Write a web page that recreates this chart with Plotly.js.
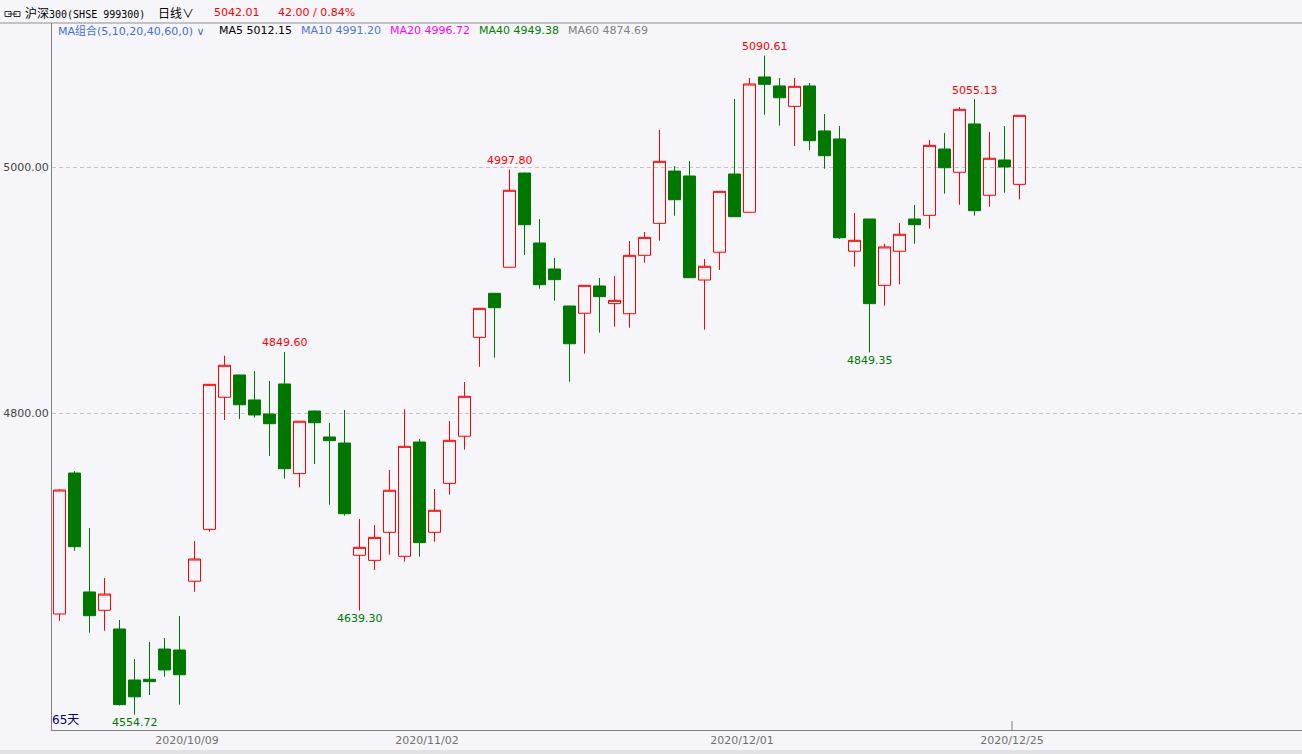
<!DOCTYPE html>
<html><head><meta charset="utf-8">
<script src="https://cdn.plot.ly/plotly-3.0.1.min.js"></script>
<style>html,body{margin:0;padding:0;background:#f6f6fa;overflow:hidden}#chart{width:1302px;height:754px}</style>
</head><body><div id="chart"></div>
<script>
// ---- data ----
const dates = [
 '2020/09/18','2020/09/21','2020/09/22','2020/09/23','2020/09/24','2020/09/25','2020/09/28','2020/09/29','2020/09/30',
 '2020/10/09','2020/10/12','2020/10/13','2020/10/14','2020/10/15','2020/10/16','2020/10/19','2020/10/20','2020/10/21','2020/10/22','2020/10/23',
 '2020/10/26','2020/10/27','2020/10/28','2020/10/29','2020/10/30',
 '2020/11/02','2020/11/03','2020/11/04','2020/11/05','2020/11/06','2020/11/09','2020/11/10','2020/11/11','2020/11/12','2020/11/13',
 '2020/11/16','2020/11/17','2020/11/18','2020/11/19','2020/11/20','2020/11/23','2020/11/24','2020/11/25','2020/11/26','2020/11/27','2020/11/30',
 '2020/12/01','2020/12/02','2020/12/03','2020/12/04','2020/12/07','2020/12/08','2020/12/09','2020/12/10','2020/12/11',
 '2020/12/14','2020/12/15','2020/12/16','2020/12/17','2020/12/18','2020/12/21','2020/12/22','2020/12/23','2020/12/24','2020/12/25'
];
const openP = [4636.6,4751.2,4654.5,4639.6,4624.4,4582.9,4583.5,4608.1,4607.3,4663.2,
 4705.4,4812.8,4830.9,4810.6,4799.2,4823.6,4750.7,4801.6,4780.5,4775.6,
 4684.3,4680.2,4703.0,4683.5,4776.4,4703.0,4742.8,4781.1,4861.5,4897.3,
 4918.5,4995.1,4938.2,4917.1,4887.0,4881.1,4903.3,4888.9,4880.7,4928.2,
 4954.2,4996.7,4992.7,4908.1,4930.7,4994.3,4963.2,5073.2,5065.9,5049.3,
 5065.9,5029.3,5022.8,4931.5,4957.7,4903.8,4931.5,4957.7,4960.7,5014.6,
 4995.7,5035.0,4977.0,5005.7,4985.9];
const highP = [4738.0,4752.8,4706.5,4665.9,4631.7,4600.0,4613.8,4617.1,4635.0,4695.9,
 4823.5,4846.6,4831.0,4834.1,4826.0,4849.60,4793.5,4802.0,4791.9,4802.4,
 4713.8,4708.9,4753.7,4803.0,4778.9,4738.2,4793.5,4825.2,4885.3,4897.5,
 4997.80,4995.5,4957.7,4926.0,4887.2,4904.0,4909.8,4911.4,4939.8,4947.2,
 5030.1,5000.8,5004.9,4925.2,4980.3,5055.3,5072.4,5090.61,5072.4,5072.4,
 5068.3,5043.1,5033.3,4962.6,4957.8,4937.6,4954.5,4969.1,5022.0,5027.6,
 5048.8,5055.13,5028.5,5033.3,5042.01];
const lowP = [4631.1,4688.0,4621.4,4623.0,4562.1,4554.72,4570.7,4585.6,4562.9,4654.7,
 4703.5,4794.3,4795.1,4796.2,4765.0,4746.6,4739.6,4758.5,4725.4,4716.5,
 4639.30,4672.4,4684.8,4679.1,4683.2,4695.4,4733.6,4770.2,4837.6,4845.0,
 4918.4,4928.5,4901.1,4891.3,4825.4,4848.2,4865.3,4870.2,4869.3,4922.2,
 4940.1,4960.4,4909.8,4867.7,4916.3,4959.5,4963.0,5042.5,5033.6,5017.1,
 5013.8,4998.6,4941.5,4918.9,4849.35,4887.2,4904.6,4937.6,4949.8,4978.3,
 4969.3,4960.4,4967.7,4979.1,4973.7];
const closeP = [4737.4,4691.3,4635.2,4652.8,4562.9,4569.3,4581.6,4591.1,4587.2,4681.3,
 4823.3,4838.8,4806.7,4798.4,4791.3,4754.7,4793.3,4792.1,4777.5,4718.1,
 4690.8,4698.9,4737.2,4772.9,4694.6,4720.9,4777.8,4813.6,4885.1,4885.6,
 4981.1,4953.1,4904.3,4908.4,4856.3,4903.8,4894.6,4891.6,4928.2,4942.8,
 5004.6,4973.4,4910.0,4919.3,4980.2,4959.6,5067.5,5067.2,5056.3,5065.6,
 5021.4,5009.2,4942.5,4940.4,4888.9,4935.0,4945.3,4953.1,5017.6,4999.4,
 5046.9,4964.5,5007.1,5000.01,5042.01];
const tickDates = ['2020/10/09','2020/11/02','2020/12/01','2020/12/25'];
const highLabelIdx = [15,30,47,61];
const lowLabelIdx = [5,20,54];
const yTicks = [4800, 5000];
const titleCN = '沪深';
const titleCode = '300(SHSE 999300)';
const periodName = '日线';
const lastPrice = '5042.01';
const changeText = '42.00 / 0.84%';
const maGroup = 'MA组合(5,10,20,40,60,0)';
const maNames = ['MA5','MA10','MA20','MA40','MA60'];
const maValues = [5012.15, 4991.20, 4996.72, 4949.38, 4874.69];
const dayCount = '65天';

// ---- styling / layout ----
const W = 1302, H = 754, L = 52, T = 23, B = 24;
const PW = W - L, PH = H - T - B;
const xp = px => (px - L) / PW;
const yp = py => (H - B - py) / PH;
const BG = '#f6f6fa', RED = '#ff0000', GREEN = '#007800';
const FAM = 'DejaVu Sans, Noto Sans CJK SC, sans-serif';
const CJK = 'Noto Sans CJK SC';
const maColors = ['#000000', '#4a78d8', '#ff00ff', '#008000', '#808080'];
const maX = [218, 300, 389, 478, 567];

const xs = dates.map((d, i) => i);

const trace = {
  type: 'candlestick', x: xs, open: openP, high: highP, low: lowP, close: closeP,
  increasing: {line: {color: RED, width: 1}, fillcolor: 'rgba(0,0,0,0)'},
  decreasing: {line: {color: GREEN, width: 1}, fillcolor: GREEN},
  whiskerwidth: 0, hoverinfo: 'skip', showlegend: false
};

const ann = [];
function txt(px, py, text, color, size, family) {
  ann.push({xref: 'paper', yref: 'paper', x: xp(px), y: yp(py), text: text, showarrow: false,
    xanchor: 'left', yanchor: 'middle', font: {family: family || FAM, size: size || 11, color: color}, borderpad: 0});
}
txt(24, 13, '<span style="font-family:' + CJK + ';font-size:12px">' + titleCN + '</span>' + titleCode, '#000000', 10, 'DejaVu Sans Mono');
txt(157, 13, periodName + '∨', '#000000', 12, CJK);
txt(213, 13, lastPrice, RED, 11);
txt(277, 13, changeText, RED, 11);
txt(57, 31, maGroup + ' ∨', '#3f6fd8', 11);
maNames.forEach((n, k) => txt(maX[k], 31, n + ' ' + maValues[k].toFixed(2), maColors[k], 11));
txt(51, 720, dayCount, '#000080', 12);

highLabelIdx.forEach(i => ann.push({xref: 'x', yref: 'y', x: xs[i], y: highP[i], text: highP[i].toFixed(2),
  showarrow: false, xanchor: 'center', yanchor: 'middle', yshift: 9, font: {family: FAM, size: 11, color: RED}}));
lowLabelIdx.forEach(i => ann.push({xref: 'x', yref: 'y', x: xs[i], y: lowP[i], text: lowP[i].toFixed(2),
  showarrow: false, xanchor: 'center', yanchor: 'middle', yshift: -8, font: {family: FAM, size: 11, color: GREEN}}));

const shapes = [
  {type: 'line', xref: 'paper', yref: 'paper', x0: xp(0), x1: 1, y0: 1, y1: 1, line: {color: '#909090', width: 1}},
  {type: 'line', xref: 'x', yref: 'paper', x0: dates.indexOf('2020/12/25') - 0.5, x1: dates.indexOf('2020/12/25') - 0.5, y0: 0, y1: 9 / PH, line: {color: '#808080', width: 1}},
  {type: 'rect', xref: 'paper', yref: 'paper', x0: xp(0), x1: 1, y0: yp(750), y1: yp(756), fillcolor: '#e2e2e6', line: {width: 0}},
  // link icon
  {type: 'rect', xref: 'paper', yref: 'paper', x0: xp(5), x1: xp(11), y0: yp(11.5), y1: yp(16.5), line: {color: '#333', width: 1}},
  {type: 'rect', xref: 'paper', yref: 'paper', x0: xp(14), x1: xp(20), y0: yp(11.5), y1: yp(16.5), line: {color: '#333', width: 1}},
  {type: 'line', xref: 'paper', yref: 'paper', x0: xp(8), x1: xp(17), y0: yp(14), y1: yp(14), line: {color: '#333', width: 1}}
];

const layout = {
  width: W, height: H, margin: {l: L, r: 0, t: T, b: B, pad: 0},
  paper_bgcolor: BG, plot_bgcolor: BG, showlegend: false, dragmode: false,
  boxgap: 0.2, boxgroupgap: 0,
  xaxis: {type: 'linear', range: [-0.5, -0.5 + PW / 15], showgrid: false, zeroline: false,
    showline: true, linecolor: '#808080', linewidth: 1, ticks: '',
    tickvals: tickDates.map(d => dates.indexOf(d) - 0.5), ticktext: tickDates,
    tickfont: {family: FAM, size: 11, color: '#707070'}, rangeslider: {visible: false}, fixedrange: true},
  yaxis: {range: [5000 - (PH - 144) / 1.23, 5000 + 144 / 1.23], tickvals: yTicks, tickformat: '.2f',
    showgrid: true, gridcolor: '#c4c4c4', griddash: '4px,3px', zeroline: false,
    showline: true, linecolor: '#808080', linewidth: 1, ticks: '',
    tickfont: {family: FAM, size: 11, color: '#444444'}, fixedrange: true},
  annotations: ann, shapes: shapes
};

Plotly.newPlot('chart', [trace], layout, {displayModeBar: false, staticPlot: true});
</script></body></html>
